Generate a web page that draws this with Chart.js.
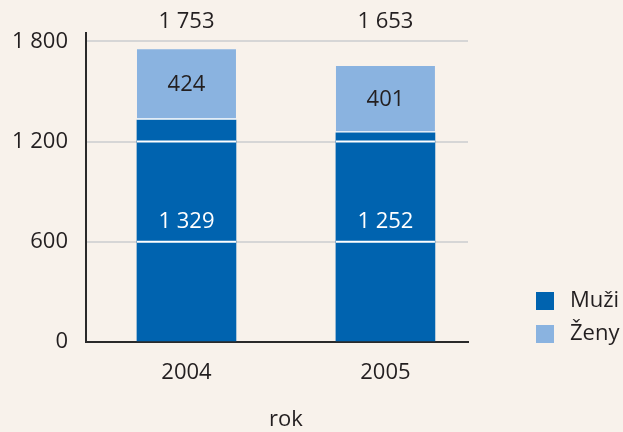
<!DOCTYPE html>
<html>
<head>
<meta charset="utf-8">
<script src="https://cdn.jsdelivr.net/npm/chart.js@4.4.1/dist/chart.umd.min.js"></script>
<style>
  html, body { margin: 0; padding: 0; background: #f8f2eb; }
  #wrap { width: 623px; height: 432px; position: relative; }
</style>
</head>
<body>
<div id="wrap"><canvas id="c" width="623" height="432"></canvas></div>
<script>
const years = [2004, 2005];
const muzi = [1329, 1252];
const zeny = [424, 401];
const yTicks = [0, 600, 1200, 1800];
const seriesNames = ['Muži', 'Ženy'];
const xTitle = 'rok';

const FONT = '"Open Sans", sans-serif';
const FS = 22;
const TEXT = '#231f20';
const DARK = '#0063af';
const LIGHT = '#8ab3e0';
const BG = '#f8f2eb';
const GRID = '#d6d6d6';

function fmt(v) {
  return String(Math.round(v)).replace(/\B(?=(\d{3})+(?!\d))/g, ' ');
}

const overlay = {
  id: 'overlay',
  afterDatasetsDraw(chart) {
    const ctx = chart.ctx;
    const y = chart.scales.y;
    const area = chart.chartArea;
    ctx.save();
    ctx.strokeStyle = '#ffffff';
    ctx.lineWidth = 2;
    chart.data.datasets.forEach((ds, di) => {
      chart.getDatasetMeta(di).data.forEach(bar => {
        const p = bar.getProps(['x', 'y', 'base', 'width'], true);
        yTicks.forEach(t => {
          if (t <= 0) return;
          const py = y.getPixelForValue(t);
          if (py > Math.min(p.y, p.base) + 1 && py < Math.max(p.y, p.base) - 1) {
            ctx.beginPath();
            ctx.moveTo(p.x - p.width / 2, py);
            ctx.lineTo(p.x + p.width / 2, py);
            ctx.stroke();
          }
        });
      });
    });
    ctx.textAlign = 'center';
    ctx.textBaseline = 'middle';
    ctx.font = FS + 'px ' + FONT;
    const m0 = chart.getDatasetMeta(0).data;
    const m1 = chart.getDatasetMeta(1).data;
    m0.forEach((bar, i) => {
      ctx.fillStyle = '#ffffff';
      ctx.fillText(fmt(muzi[i]), bar.x, y.getPixelForValue(720));
    });
    m1.forEach((bar, i) => {
      const p = bar.getProps(['x', 'y', 'base'], true);
      ctx.fillStyle = TEXT;
      ctx.fillText(fmt(zeny[i]), p.x, (p.y + p.base) / 2);
      ctx.fillText(fmt(muzi[i] + zeny[i]), p.x, area.top - 11);
    });
    ctx.fillStyle = TEXT;
    ctx.fillText(xTitle, 286, 420);
    const cols = [DARK, LIGHT];
    ctx.textAlign = 'left';
    seriesNames.forEach((n, i) => {
      const cy = 301 + i * 33;
      ctx.fillStyle = cols[i];
      ctx.fillRect(536, cy - 9, 18, 18);
      ctx.fillStyle = TEXT;
      ctx.fillText(n, 570, cy);
    });
    ctx.restore();
  }
};

new Chart(document.getElementById('c'), {
  type: 'bar',
  data: {
    datasets: [
      {
        label: seriesNames[0],
        data: years.map((x, i) => ({ x: x, y: muzi[i] })),
        backgroundColor: DARK,
        borderWidth: 0,
        barThickness: 99
      },
      {
        label: seriesNames[1],
        data: years.map((x, i) => ({ x: x, y: zeny[i] })),
        backgroundColor: LIGHT,
        borderColor: '#ffffff',
        borderWidth: { top: 0, left: 0, right: 0, bottom: 2 },
        borderSkipped: false,
        barThickness: 99
      }
    ]
  },
  options: {
    responsive: false,
    animation: false,
    events: [],
    layout: { padding: { left: 0, top: 33, right: 155, bottom: 0 } },
    plugins: { legend: { display: false }, tooltip: { enabled: false } },
    scales: {
      x: {
        type: 'linear',
        stacked: true,
        offset: false,
        min: 2003.495,
        max: 2005.415,
        grid: { display: false, offset: false },
        border: { display: true, color: '#2a2a2a', width: 2 },
        afterBuildTicks(s) { s.ticks = years.map(v => ({ value: v })); },
        afterFit(s) { s.height = 90; },
        ticks: {
          color: TEXT,
          font: { family: FONT, size: FS },
          padding: 10,
          maxRotation: 0,
          callback: v => String(v)
        }
      },
      y: {
        stacked: true,
        min: 0,
        max: 1850,
        afterBuildTicks(s) { s.ticks = yTicks.map(v => ({ value: v })); },
        afterFit(s) { s.width = 86; },
        grid: { color: GRID, lineWidth: 2, drawTicks: false },
        border: { display: true, color: '#2a2a2a', width: 2 },
        ticks: {
          color: TEXT,
          font: { family: FONT, size: FS },
          padding: 18,
          callback: v => fmt(v)
        }
      }
    }
  },
  plugins: [{
    id: 'bg',
    beforeDraw(chart) {
      const ctx = chart.ctx;
      ctx.save();
      ctx.fillStyle = BG;
      ctx.fillRect(0, 0, chart.width, chart.height);
      ctx.restore();
    }
  }, overlay]
});
</script>
</body>
</html>
